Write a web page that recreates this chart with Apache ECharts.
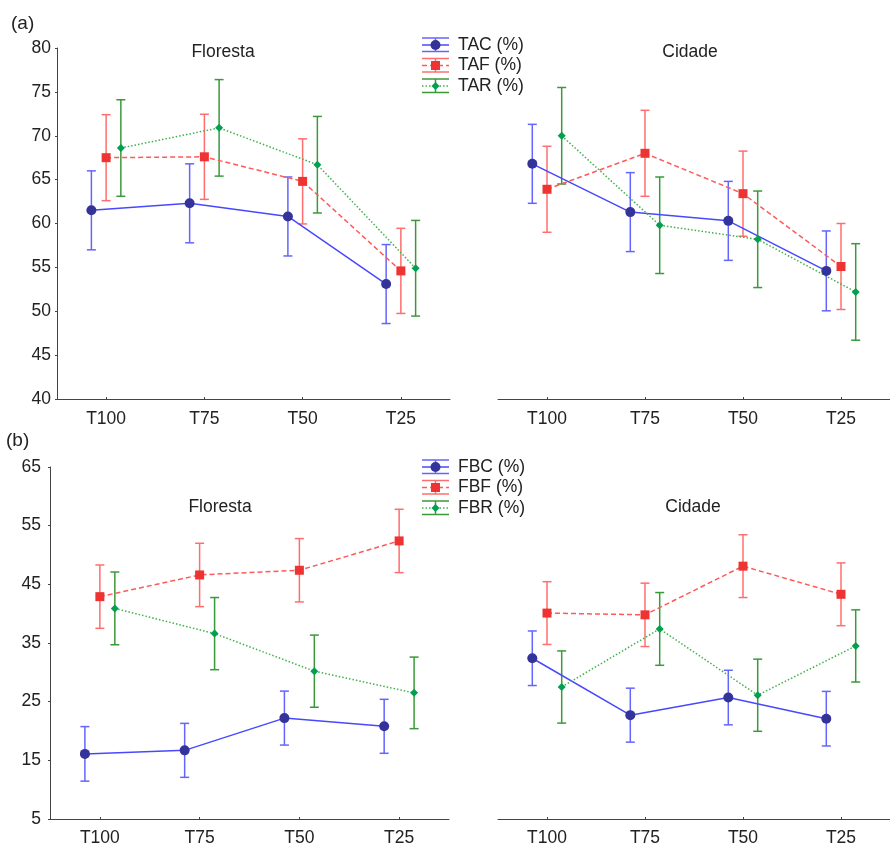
<!DOCTYPE html>
<html>
<head>
<meta charset="utf-8">
<title>Floresta / Cidade</title>
<script src="https://cdn.jsdelivr.net/npm/echarts@6/dist/echarts.min.js"></script>
<style>
  html, body { margin: 0; padding: 0; background: #fff; }
  #main { width: 890px; height: 847px; }
</style>
</head>
<body>
<div id="main"></div>
<script>
// categorias e valores (media e meia amplitude da barra de erro)
const categories = ['T100', 'T75', 'T50', 'T25'];

// (a) Floresta
const tacFlo = [61.5, 62.3, 60.8, 53.1];
const tacFloErr = [4.5, 4.5, 4.5, 4.5];
const tafFlo = [67.5, 67.6, 64.8, 54.6];
const tafFloErr = [4.9, 4.85, 4.85, 4.85];
const tarFlo = [68.6, 70.9, 66.7, 54.9];
const tarFloErr = [5.5, 5.5, 5.5, 5.45];
// (a) Cidade
const tacCid = [66.8, 61.3, 60.3, 54.6];
const tacCidErr = [4.5, 4.5, 4.5, 4.55];
const tafCid = [63.9, 68.0, 63.4, 55.1];
const tafCidErr = [4.9, 4.9, 4.85, 4.9];
const tarCid = [70.0, 59.8, 58.2, 52.2];
const tarCidErr = [5.5, 5.5, 5.5, 5.5];
// (b) Floresta
const fbcFlo = [16.1, 16.7, 22.2, 20.8];
const fbcFloErr = [4.65, 4.6, 4.6, 4.6];
const fbfFlo = [42.9, 46.6, 47.4, 52.4];
const fbfFloErr = [5.4, 5.4, 5.4, 5.4];
const fbrFlo = [40.9, 36.6, 30.2, 26.5];
const fbrFloErr = [6.2, 6.15, 6.15, 6.1];
// (b) Cidade
const fbcCid = [32.4, 22.7, 25.7, 22.1];
const fbcCidErr = [4.65, 4.6, 4.65, 4.65];
const fbfCid = [40.1, 39.8, 48.1, 43.3];
const fbfCidErr = [5.35, 5.4, 5.35, 5.35];
const fbrCid = [27.5, 37.4, 26.1, 34.5];
const fbrCidErr = [6.15, 6.2, 6.15, 6.15];

const namesA = ['TAC (%)', 'TAF (%)', 'TAR (%)'];
const namesB = ['FBC (%)', 'FBF (%)', 'FBR (%)'];
const ticksA = [40, 80, 5];
const ticksB = [5, 65, 10];

const FONT = '"Liberation Sans", Arial, sans-serif';
const TXT = '#222';

// estilo de cada serie: azul solido, vermelho tracejado, verde pontilhado
const styles = [
  { line: '#4848ff', bar: '#6464ff', mark: '#333399', symbol: 'circle', size: 10, dash: 'solid', off: -0.15 },
  { line: '#ff5a5a', bar: '#ff6e6e', mark: '#ee3333', symbol: 'rect', size: 9, dash: [5, 3], off: 0 },
  { line: '#3fb24a', bar: '#3a9a3a', mark: '#00a050', symbol: 'diamond', size: 8, dash: [1.5, 2], off: 0.15 }
];

const panels = [
  { grid: { left: 57, top: 48, width: 393, height: 351 }, ticks: ticksA, showY: true, margin: 6, lm: 11,
    series: [[tacFlo, tacFloErr], [tafFlo, tafFloErr], [tarFlo, tarFloErr]], names: namesA },
  { grid: { left: 498, top: 48, width: 396, height: 351 }, ticks: ticksA, showY: false, margin: 6, lm: 11,
    series: [[tacCid, tacCidErr], [tafCid, tafCidErr], [tarCid, tarCidErr]], names: namesA },
  { grid: { left: 50, top: 467, width: 399, height: 353 }, ticks: ticksB, showY: true, margin: 9, lm: 10,
    series: [[fbcFlo, fbcFloErr], [fbfFlo, fbfFloErr], [fbrFlo, fbrFloErr]], names: namesB },
  { grid: { left: 498, top: 467, width: 398, height: 353 }, ticks: ticksB, showY: false, margin: 9, lm: 10,
    series: [[fbcCid, fbcCidErr], [fbfCid, fbfCidErr], [fbrCid, fbrCidErr]], names: namesB }
];

function errorBar(color) {
  return function (params, api) {
    const x = api.value(0);
    const hi = api.coord([x, api.value(2)]);
    const lo = api.coord([x, api.value(1)]);
    const w = 4.5;
    const st = { stroke: color, lineWidth: 1.5 };
    return {
      type: 'group',
      children: [
        { type: 'line', shape: { x1: hi[0], y1: hi[1], x2: lo[0], y2: lo[1] }, style: st },
        { type: 'line', shape: { x1: hi[0] - w, y1: hi[1], x2: hi[0] + w, y2: hi[1] }, style: st },
        { type: 'line', shape: { x1: lo[0] - w, y1: lo[1], x2: lo[0] + w, y2: lo[1] }, style: st }
      ]
    };
  };
}

const grid = [], xAxis = [], yAxis = [], series = [];

panels.forEach((p, i) => {
  grid.push(p.grid);
  xAxis.push({
    type: 'category', gridIndex: i, data: categories, boundaryGap: true,
    axisLine: { show: true, onZero: false, lineStyle: { color: '#444', width: 1 } },
    axisTick: { show: true, alignWithLabel: true, inside: true, length: 2, lineStyle: { color: '#444' } },
    axisLabel: { color: TXT, fontFamily: FONT, fontSize: 17.5, margin: p.lm },
    splitLine: { show: false }
  });
  xAxis.push({ type: 'value', gridIndex: i, min: -0.5, max: 3.5, show: false });
  yAxis.push({
    type: 'value', gridIndex: i, min: p.ticks[0], max: p.ticks[1], interval: p.ticks[2],
    show: p.showY,
    axisLine: { show: true, onZero: false, lineStyle: { color: '#444', width: 1 } },
    axisTick: { show: true, length: 2, lineStyle: { color: '#444' } },
    axisLabel: { color: TXT, fontFamily: FONT, fontSize: 17.5, margin: p.margin },
    splitLine: { show: false }
  });
  p.series.forEach((s, k) => {
    const st = styles[k];
    const mean = s[0], err = s[1];
    series.push({
      type: 'custom', name: p.names[k], xAxisIndex: 2 * i + 1, yAxisIndex: i, z: 2,
      renderItem: errorBar(st.bar),
      data: mean.map((v, j) => [j + st.off, v - err[j], v + err[j]])
    });
    series.push({
      type: 'line', name: p.names[k], xAxisIndex: 2 * i + 1, yAxisIndex: i, z: 3,
      symbol: st.symbol, symbolSize: st.size, showSymbol: true,
      itemStyle: { color: st.mark },
      lineStyle: { color: st.line, width: 1.5, type: st.dash },
      data: mean.map((v, j) => [j + st.off, v])
    });
  });
});

// titulos, letras dos paineis e legendas
const graphic = [];
function text(t, x, y, align, size) {
  graphic.push({ type: 'text', x: x, y: y, silent: true,
    style: { text: t, fill: TXT, font: size + 'px ' + FONT, textAlign: align, textVerticalAlign: 'middle' } });
}
text('(a)', 11, 24, 'left', 19);
text('(b)', 6, 441, 'left', 19);
text('Floresta', 223, 52, 'center', 17.5);
text('Cidade', 690, 52, 'center', 17.5);
text('Floresta', 220, 507, 'center', 17.5);
text('Cidade', 693, 507, 'center', 17.5);

function legendBlock(names, y0) {
  names.forEach((n, k) => {
    const st = styles[k];
    const cy = y0 + k * 20.5;
    const x1 = 422, x2 = 449, cx = 435.5;
    const bar = { stroke: st.bar, lineWidth: 1.5 };
    graphic.push({ type: 'line', silent: true, shape: { x1: x1, y1: cy - 7, x2: x2, y2: cy - 7 }, style: bar });
    graphic.push({ type: 'line', silent: true, shape: { x1: x1, y1: cy + 6.5, x2: x2, y2: cy + 6.5 }, style: bar });
    graphic.push({ type: 'line', silent: true, shape: { x1: cx, y1: cy - 7, x2: cx, y2: cy + 6.5 }, style: bar });
    graphic.push({ type: 'line', silent: true, shape: { x1: x1, y1: cy, x2: x2, y2: cy },
      style: { stroke: st.line, lineWidth: 1.5, lineDash: st.dash === 'solid' ? null : st.dash } });
    const r = st.size / 2;
    let mark;
    if (st.symbol === 'circle') {
      mark = { type: 'circle', shape: { cx: cx, cy: cy, r: r } };
    } else if (st.symbol === 'rect') {
      mark = { type: 'rect', shape: { x: cx - r, y: cy - r, width: 2 * r, height: 2 * r } };
    } else {
      mark = { type: 'polygon', shape: { points: [[cx, cy - r], [cx + r, cy], [cx, cy + r], [cx - r, cy]] } };
    }
    mark.silent = true;
    mark.style = { fill: st.mark };
    graphic.push(mark);
    text(n, 458, cy, 'left', 17.5);
  });
}
legendBlock(namesA, 45);
legendBlock(namesB, 467);

const chart = echarts.init(document.getElementById('main'));
chart.setOption({
  animation: false,
  backgroundColor: '#fff',
  grid: grid,
  xAxis: xAxis,
  yAxis: yAxis,
  series: series,
  graphic: graphic
});
window.addEventListener('resize', () => { chart.resize(); });
</script>
</body>
</html>
